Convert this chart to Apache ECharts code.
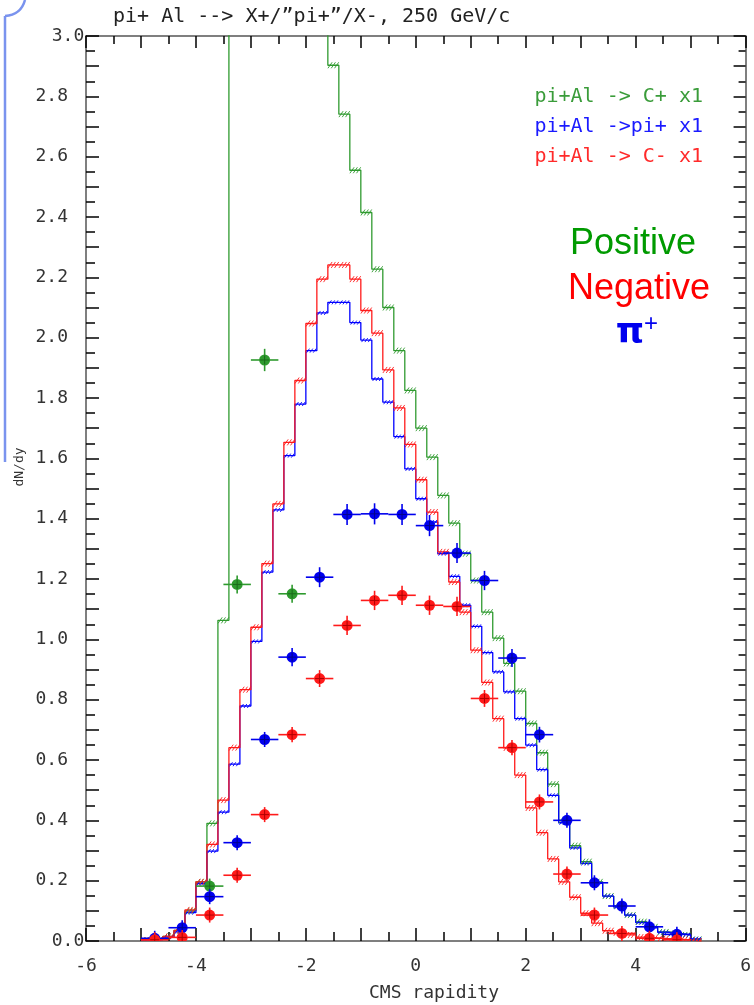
<!DOCTYPE html>
<html>
<head>
<meta charset="utf-8">
<script src="https://cdn.jsdelivr.net/npm/echarts@6/dist/echarts.min.js"></script>
<style>
html,body{margin:0;padding:0;background:#fff;}
#chart{width:754px;height:1005px;}
</style>
</head>
<body>
<div id="chart"></div>
<script>
// ---- histogram bins (rapidity), width 0.2 from -5.0 to 5.2 ----
const binStart = -5.0;
const binWidth = 0.2;
// C+ (green); bins from -3.4 to -1.6 run off the top of the frame
const histPos = [0.003,0.005,0.015,0.035,0.100,0.196,0.390,1.063,3.6,3.6,
                 3.6,3.6,3.6,3.6,3.6,3.6,3.6,2.903,2.741,2.555,
                 2.415,2.227,2.100,1.957,1.825,1.700,1.604,1.477,1.385,1.284,
                 1.195,1.090,1.004,0.920,0.828,0.721,0.624,0.520,0.400,0.316,
                 0.263,0.196,0.149,0.116,0.086,0.064,0.047,0.030,0.025,0.020,0.005];
// pi+ (blue)
const histPip = [0.003,0.005,0.013,0.030,0.094,0.190,0.298,0.427,0.586,0.779,
                 0.993,1.223,1.429,1.609,1.780,1.957,2.082,2.117,2.117,2.050,
                 1.992,1.863,1.786,1.672,1.565,1.466,1.389,1.284,1.209,1.113,
                 1.043,0.956,0.892,0.826,0.737,0.649,0.568,0.483,0.392,0.309,
                 0.257,0.191,0.149,0.112,0.086,0.061,0.044,0.029,0.024,0.020,0.007];
// C- (red)
const histNeg = [0.003,0.005,0.015,0.035,0.103,0.196,0.320,0.467,0.641,0.833,
                 1.040,1.251,1.449,1.653,1.858,2.047,2.194,2.241,2.241,2.194,
                 2.090,2.015,1.893,1.767,1.646,1.529,1.422,1.290,1.190,1.090,
                 0.964,0.857,0.737,0.640,0.550,0.441,0.359,0.272,0.196,0.145,
                 0.092,0.059,0.034,0.027,0.020,0.013,0.010,0.008,0.006,0.004,0.000];

// ---- data points ----
const ptX = [-4.75,-4.25,-3.75,-3.25,-2.75,-2.25,-1.75,-1.25,-0.75,-0.25,
             0.25,0.75,1.25,1.75,2.25,2.75,3.25,3.75,4.25,4.75];
const ptPip = [0.009,0.044,0.147,0.326,0.668,0.941,1.206,1.414,1.416,1.414,
               1.377,1.286,1.195,0.938,0.684,0.400,0.193,0.116,0.047,0.022];
const ptPipErr = [0.005,0.008,0.012,0.018,0.025,0.030,0.033,0.035,0.035,0.035,
                  0.035,0.033,0.032,0.030,0.026,0.020,0.014,0.010,0.007,0.005];
const ptNeg = [0.004,0.012,0.086,0.218,0.419,0.684,0.870,1.046,1.129,1.146,
               1.113,1.109,0.804,0.641,0.461,0.222,0.086,0.025,0.009,0.004];
const ptNegErr = [0.004,0.006,0.010,0.015,0.020,0.025,0.028,0.032,0.032,0.032,
                  0.032,0.032,0.028,0.025,0.020,0.015,0.010,0.006,0.004,0.003];
const ptPosX = [-3.75,-3.25,-2.75,-2.25];
const ptPos = [0.182,1.182,1.926,1.151];
const ptPosErr = [0.015,0.030,0.037,0.030];
const xHalfWidth = 0.25;

// ---- texts ----
const titleText = 'pi+ Al --> X+/\u201dpi+\u201d/X-, 250 GeV/c';
const legendTexts = ['pi+Al -> C+ x1', 'pi+Al ->pi+ x1', 'pi+Al -> C- x1'];
const xTitle = 'CMS rapidity';
const yTitle = 'dN/dy';

const GREEN = '#2f9a2f', BLUE = '#0000ff', RED = '#ff1a1a';
const MONO = 'DejaVu Sans Mono';

function stepData(vals){
  const d = vals.map((v,i)=>[+(binStart + i*binWidth).toFixed(2), v]);
  d.push([+(binStart + vals.length*binWidth).toFixed(2), vals[vals.length-1]]);
  return d;
}
function hatchData(vals){
  return vals.map((v,i)=>[+(binStart + i*binWidth).toFixed(2), +(binStart + (i+1)*binWidth).toFixed(2), v]);
}
function hatchSeries(vals, color, h){
  return {
    type:'custom', clip:true, z:4, silent:true,
    data: hatchData(vals),
    encode:{x:[0,1], y:2},
    renderItem:function(params, api){
      const a = api.coord([api.value(0), api.value(2)]);
      const b = api.coord([api.value(1), api.value(2)]);
      const w = b[0]-a[0];
      const kids = [];
      [0.2,0.5,0.8].forEach(f=>{
        const cx = a[0] + f*w;
        kids.push({type:'line', shape:{x1:cx-h*0.7, y1:a[1]+h, x2:cx+h*0.7, y2:a[1]-h},
                   style:{stroke:color, lineWidth:0.9}});
      });
      return {type:'group', children:kids};
    }
  };
}
function pointSeries(xs, ys, errs, color, dark){
  return {
    type:'custom', clip:true, z:6, silent:true,
    data: xs.map((x,i)=>[x, ys[i], errs[i]]),
    encode:{x:0, y:1},
    renderItem:function(params, api){
      const x = api.value(0), y = api.value(1), e = api.value(2);
      const c = api.coord([x,y]);
      const l = api.coord([x-xHalfWidth,y]);
      const r = api.coord([x+xHalfWidth,y]);
      const t = api.coord([x,y+e]);
      const bt = api.coord([x,y-e]);
      const R = 5.5;
      return {type:'group', children:[
        {type:'line', shape:{x1:l[0],y1:c[1],x2:r[0],y2:c[1]}, style:{stroke:color, lineWidth:1.6}},
        {type:'line', shape:{x1:c[0],y1:Math.min(t[1],c[1]-R-2),x2:c[0],y2:Math.max(bt[1],c[1]+R+2)}, style:{stroke:color, lineWidth:1.6}},
        {type:'circle', shape:{cx:c[0], cy:c[1], r:R}, style:{fill:color}},
        {type:'line', shape:{x1:c[0]-R+1,y1:c[1],x2:c[0]+R-1,y2:c[1]}, style:{stroke:dark, lineWidth:1}},
        {type:'line', shape:{x1:c[0],y1:c[1]-R+1,x2:c[0],y2:c[1]+R-1}, style:{stroke:dark, lineWidth:1}}
      ]};
    }
  };
}
function lineSeries(vals, color){
  return {type:'line', step:'end', data:stepData(vals), showSymbol:false, symbol:'none',
          clip:true, z:3, silent:true, animation:false,
          lineStyle:{color:color, width:1.3}};
}

const axisLineStyle = {color:'#555', width:1.5};
const tickStyle = {color:'#000', width:1.5};

const chart = echarts.init(document.getElementById('chart'), null, {renderer:'canvas'});
chart.setOption({
  animation:false,
  backgroundColor:'#fff',
  grid:{left:86, top:36, width:667, height:905, containLabel:false},
  xAxis:[
    {type:'value', min:-6, max:6, interval:1, position:'bottom',
     axisLine:{show:true, onZero:false, lineStyle:axisLineStyle},
     axisTick:{show:true, inside:true, length:13, lineStyle:tickStyle},
     minorTick:{show:true, splitNumber:2, length:9, lineStyle:tickStyle},
     splitLine:{show:false}, minorSplitLine:{show:false},
     axisLabel:{show:true, showMinLabel:true, showMaxLabel:true, margin:16,
       alignMinLabel:'center', alignMaxLabel:'center', hideOverlap:false,
       fontFamily:MONO, fontSize:18, color:'#333',
       formatter:function(v){ return (Math.round(v)%2===0) ? String(Math.round(v)) : ''; }}},
    {type:'value', min:-6, max:6, interval:1, position:'top',
     axisLine:{show:true, onZero:false, lineStyle:axisLineStyle},
     axisTick:{show:true, inside:true, length:12, lineStyle:tickStyle},
     minorTick:{show:true, splitNumber:2, length:8, lineStyle:tickStyle},
     splitLine:{show:false}, axisLabel:{show:false}}
  ],
  yAxis:[
    {type:'value', min:0, max:3, interval:0.1, position:'left',
     axisLine:{show:true, onZero:false, lineStyle:axisLineStyle},
     axisTick:{show:true, inside:true, length:13, lineStyle:tickStyle},
     minorTick:{show:true, splitNumber:2, length:9, lineStyle:tickStyle},
     splitLine:{show:false}, minorSplitLine:{show:false},
     axisLabel:{show:true, showMinLabel:true, showMaxLabel:true, margin:18,
       alignMinLabel:'center', alignMaxLabel:'center',
       fontFamily:MONO, fontSize:18, color:'#333', padding:[0,0,14,0],
       formatter:function(v){ const k=Math.round(v*10); return (k%2===0) ? (k/10).toFixed(1) : ''; }}},
    {type:'value', min:0, max:3, interval:0.1, position:'right',
     axisLine:{show:true, onZero:false, lineStyle:axisLineStyle},
     axisTick:{show:true, inside:true, length:12, lineStyle:tickStyle},
     minorTick:{show:true, splitNumber:2, length:7, lineStyle:tickStyle},
     splitLine:{show:false}, axisLabel:{show:false}}
  ],
  series:[
    lineSeries(histPos, GREEN),
    lineSeries(histPip, BLUE),
    lineSeries(histNeg, RED),
    hatchSeries(histPos, GREEN, 3),
    hatchSeries(histPip, BLUE, 2),
    hatchSeries(histNeg, RED, 3),
    pointSeries(ptPosX, ptPos, ptPosErr, '#2e9a2e', '#1a6a1a'),
    pointSeries(ptX, ptPip, ptPipErr, '#0000ee', '#00008a'),
    pointSeries(ptX, ptNeg, ptNegErr, '#ff1a1a', '#b00000')
  ],
  graphic:[
    {type:'text', x:113, y:17, style:{text:titleText, font:'20px "DejaVu Sans Mono"', fill:'#222',
      align:'left', verticalAlign:'middle'}},
    {type:'text', x:703, y:97, style:{text:legendTexts[0], font:'20px "DejaVu Sans Mono"', fill:'#3a9c3a',
      align:'right', verticalAlign:'middle'}},
    {type:'text', x:703, y:127, style:{text:legendTexts[1], font:'20px "DejaVu Sans Mono"', fill:'#1a1aff',
      align:'right', verticalAlign:'middle'}},
    {type:'text', x:703, y:157, style:{text:legendTexts[2], font:'20px "DejaVu Sans Mono"', fill:'#ff2a2a',
      align:'right', verticalAlign:'middle'}},
    {type:'text', x:633, y:244, style:{text:'Positive', font:'36px "Liberation Sans"', fill:'#009a00',
      align:'center', verticalAlign:'middle'}},
    {type:'text', x:639, y:289, style:{text:'Negative', font:'36px "Liberation Sans"', fill:'#ff0000',
      align:'center', verticalAlign:'middle'}},
    {type:'text', x:630, y:334, style:{text:'\u03c0', font:'bold 36px "DejaVu Sans"', fill:'#0000ee',
      align:'center', verticalAlign:'middle'}},
    {type:'text', x:651, y:324, style:{text:'+', font:'24px "Liberation Sans"', fill:'#0000ee',
      align:'center', verticalAlign:'middle'}},
    {type:'text', x:434, y:993, style:{text:xTitle, font:'18px "DejaVu Sans Mono"', fill:'#333',
      align:'center', verticalAlign:'middle'}},
    {type:'text', x:20, y:467, rotation:Math.PI/2, style:{text:yTitle, font:'13px "DejaVu Sans Mono"', fill:'#333',
      align:'center', verticalAlign:'middle'}},
    {type:'line', shape:{x1:5, y1:462, x2:5, y2:16}, style:{stroke:'#7a93ee', lineWidth:2.5}},
    {type:'bezierCurve', shape:{x1:5, y1:16, cpx1:21, cpy1:15, x2:25, y2:0}, style:{stroke:'#7a93ee', lineWidth:2.5, fill:null}}
  ]
});
</script>
</body>
</html>
